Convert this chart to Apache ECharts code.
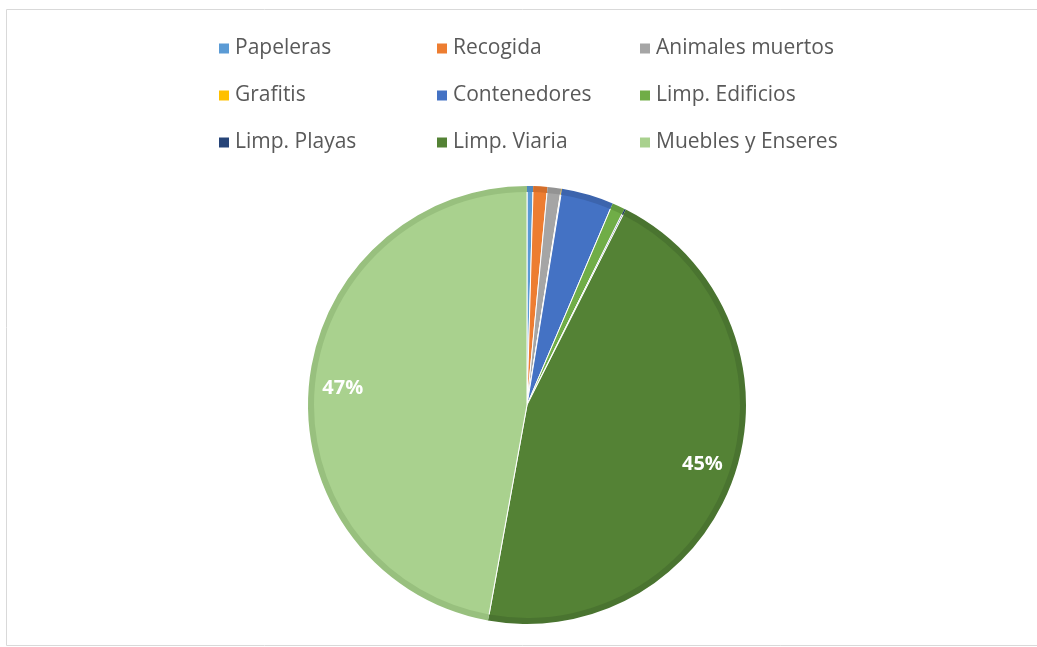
<!DOCTYPE html>
<html>
<head>
<meta charset="utf-8">
<script src="https://cdn.jsdelivr.net/npm/echarts@6/dist/echarts.min.js"></script>
<style>
  html, body { margin: 0; padding: 0; background: #fff; }
  #chart { width: 1037px; height: 647px; }
</style>
</head>
<body>
<div id="chart"></div>
<script>
// categorias y porcentajes
var categorias = ["Papeleras", "Recogida", "Animales muertos", "Grafitis", "Contenedores",
                  "Limp. Edificios", "Limp. Playas", "Limp. Viaria", "Muebles y Enseres"];
var valores = [0.45, 1.05, 1.0, 0.05, 3.85, 0.95, 0.1, 45.4, 47.15];
var colores = ["#5B9BD5", "#ED7D31", "#A5A5A5", "#FFC000", "#4472C4",
               "#70AD47", "#264478", "#548235", "#A9D18E"];
var coloresBorde = ["#4F89BE", "#D46E2A", "#939393", "#E3AB00", "#3C64AD",
                    "#629A3E", "#1F3962", "#4A7430", "#98C07E"];

var chart = echarts.init(document.getElementById("chart"));

function datos(cols) {
    return categorias.map(function (c, i) {
        return { name: c, value: valores[i], itemStyle: { color: cols[i] } };
    });
}

function columna(idx, left) {
    return {
        orient: "vertical",
        left: left,
        top: 38,
        padding: 0,
        itemWidth: 12,
        itemHeight: 12,
        itemGap: 26,
        icon: "rect",
        selectedMode: false,
        textStyle: { fontFamily: "Open Sans", fontSize: 21, lineHeight: 20, color: "#595959" },
        data: idx.map(function (i) { return categorias[i]; })
    };
}

var option = {
    animation: false,
    graphic: [{
        type: "rect",
        shape: { x: 6.5, y: 9.5, width: 1040, height: 636 },
        style: { fill: "none", stroke: "#d9d9d9", lineWidth: 1 },
        silent: true
    }],
    legend: [columna([0, 3, 6], 217), columna([1, 4, 7], 435), columna([2, 5, 8], 638)],
    series: [
        {
            // relleno principal
            type: "pie",
            center: [527, 405],
            radius: [0, 215],
            startAngle: 90,
            z: 2,
            label: { show: false },
            labelLine: { show: false },
            emphasis: { disabled: true },
            itemStyle: { borderColor: "#fff", borderWidth: 1 },
            data: datos(colores)
        },
        {
            // borde oscuro exterior
            type: "pie",
            center: [527, 405],
            radius: [213, 219],
            startAngle: 90,
            z: 3,
            silent: true,
            label: { show: false },
            labelLine: { show: false },
            emphasis: { disabled: true },
            itemStyle: { borderWidth: 0 },
            data: datos(coloresBorde)
        },
        {
            // solo etiquetas
            type: "pie",
            center: [527, 405],
            radius: [164, 200],
            startAngle: 90,
            z: 4,
            silent: true,
            labelLine: { show: false },
            emphasis: { disabled: true },
            itemStyle: { color: "rgba(0,0,0,0)", borderWidth: 0 },
            label: {
                show: true,
                position: "inside",
                fontFamily: "Open Sans",
                fontWeight: "bold",
                fontSize: 20,
                color: "#fff",
                formatter: function (p) {
                    return p.percent > 10 ? Math.round(p.percent) + "%" : "";
                }
            },
            data: categorias.map(function (c, i) { return { name: c, value: valores[i] }; })
        }
    ]
};

chart.setOption(option);
</script>
</body>
</html>
